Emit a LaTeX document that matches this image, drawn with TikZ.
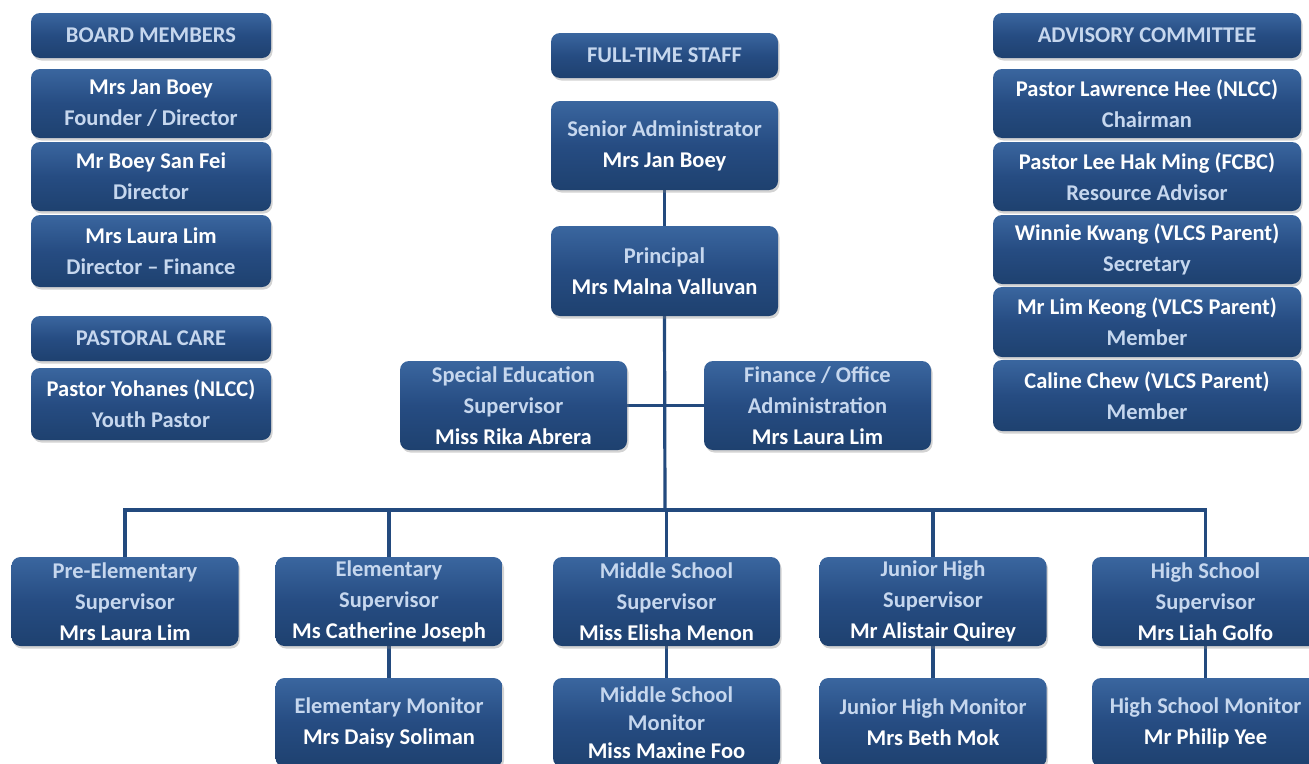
\documentclass[tikz,border=0pt]{standalone}
\usepackage{fontspec}
\setmainfont{Carlito}
\usetikzlibrary{shadows,backgrounds}
\definecolor{boxtop}{HTML}{3A669F}
\definecolor{boxmid}{HTML}{264C82}
\definecolor{boxbot}{HTML}{1E416F}
\definecolor{linec}{HTML}{234A7E}
\definecolor{rolec}{HTML}{C6D7EE}
\newcommand{\rl}[1]{\textcolor{rolec}{#1}}
\begin{document}
\begin{tikzpicture}[x=1pt,y=-1pt,
  box/.style={rounded corners=9pt, top color=boxtop, bottom color=boxbot, middle color=boxmid,
    drop shadow={shadow xshift=1.5pt, shadow yshift=-2.5pt, opacity=0.35},
    text=white, font=\bfseries\fontsize{22.5}{31}\selectfont, align=center, inner sep=0pt},
  hdr/.style={box, text=rolec},
  conn/.style={draw=linec, line width=3.2pt}]
\useasboundingbox (0,0) rectangle (1309,763);
\clip (0,0) rectangle (1309,763);
% board members
\node[hdr, minimum width=240, minimum height=45] (bm) at (151,35.5) {BOARD MEMBERS};
\node[box, minimum width=240, minimum height=69] (b1) at (151,103.5) {Mrs Jan Boey\\\rl{Founder / Director}};
\node[box, minimum width=240, minimum height=69] (b2) at (151,176.5) {Mr Boey San Fei\\\rl{Director}};
\node[box, minimum width=240, minimum height=72] (b3) at (151,251) {Mrs Laura Lim\\\rl{Director -- Finance}};
\node[hdr, minimum width=240, minimum height=45] (pc) at (151,338.5) {PASTORAL CARE};
\node[box, minimum width=240, minimum height=72] (p1) at (151,404) {Pastor Yohanes (NLCC)\\\rl{Youth Pastor}};
% full-time staff
\node[hdr, minimum width=227, minimum height=45] (fs) at (664.5,55.5) {FULL-TIME STAFF};
\node[box, minimum width=227, minimum height=89] (sa) at (664.5,145.5) {\rl{Senior Administrator}\\Mrs Jan Boey};
\node[box, minimum width=227, minimum height=90] (pr) at (664.5,271) {\rl{Principal}\\Mrs Malna Valluvan};
\node[box, minimum width=227, minimum height=89] (se) at (513.5,405.5) {\rl{Special Education}\\\rl{Supervisor}\\Miss Rika Abrera};
\node[box, minimum width=227, minimum height=89] (fo) at (817.5,405.5) {\rl{Finance / Office}\\\rl{Administration}\\Mrs Laura Lim};
% advisory committee
\node[hdr, minimum width=308, minimum height=45] (ac) at (1147,35.5) {ADVISORY COMMITTEE};
\node[box, minimum width=308, minimum height=69] (a1) at (1147,103.5) {Pastor Lawrence Hee (NLCC)\\\rl{Chairman}};
\node[box, minimum width=308, minimum height=69] (a2) at (1147,176.5) {Pastor Lee Hak Ming (FCBC)\\\rl{Resource Advisor}};
\node[box, minimum width=308, minimum height=69] (a3) at (1147,249.5) {Winnie Kwang (VLCS Parent)\\\rl{Secretary}};
\node[box, minimum width=308, minimum height=70] (a4) at (1147,322) {Mr Lim Keong (VLCS Parent)\\\rl{Member}};
\node[box, minimum width=308, minimum height=71] (a5) at (1147,395.5) {Caline Chew (VLCS Parent)\\\rl{Member}};
% supervisors
\node[box, minimum width=227, minimum height=89] (pe) at (125,601.5) {\rl{Pre-Elementary}\\\rl{Supervisor}\\Mrs Laura Lim};
\node[box, minimum width=227, minimum height=89] (el) at (389,601.5) {\rl{Elementary}\\\rl{Supervisor}\\Ms Catherine Joseph};
\node[box, minimum width=227, minimum height=89] (ms) at (666.5,601.5) {\rl{Middle School}\\\rl{Supervisor}\\Miss Elisha Menon};
\node[box, minimum width=227, minimum height=89] (jh) at (933,601.5) {\rl{Junior High}\\\rl{Supervisor}\\Mr Alistair Quirey};
\node[box, minimum width=227, minimum height=89] (hs) at (1205.5,601.5) {\rl{High School}\\\rl{Supervisor}\\Mrs Liah Golfo};
% monitors
\node[box, minimum width=227, minimum height=89] (em) at (389,722.5) {\rl{Elementary Monitor}\\Mrs Daisy Soliman};
\node[box, minimum width=227, minimum height=89, font=\bfseries\fontsize{22.5}{28.5}\selectfont] (mm) at (666.5,722.5) {\rl{Middle School}\\\rl{Monitor}\\[-1pt]Miss Maxine Foo};
\node[box, minimum width=227, minimum height=89] (jm) at (933,722.5) {\rl{Junior High Monitor}\\Mrs Beth Mok};
\node[box, minimum width=227, minimum height=89] (hm) at (1205.5,722.5) {\rl{High School Monitor}\\Mr Philip Yee};
\coordinate (bus) at (665,510);
\begin{scope}[on background layer]
\draw[conn] (sa.south) -- (pr.north);
\draw[conn] (pr.south) -- (bus);
\draw[conn] (se.east) -- (fo.west);
\foreach \n in {pe,el,ms,jh,hs} \draw[conn] (bus) -| (\n.north);
\foreach \a/\b in {el/em,ms/mm,jh/jm,hs/hm} \draw[conn] (\a.south) -- (\b.north);
\end{scope}
\end{tikzpicture}
\end{document}
